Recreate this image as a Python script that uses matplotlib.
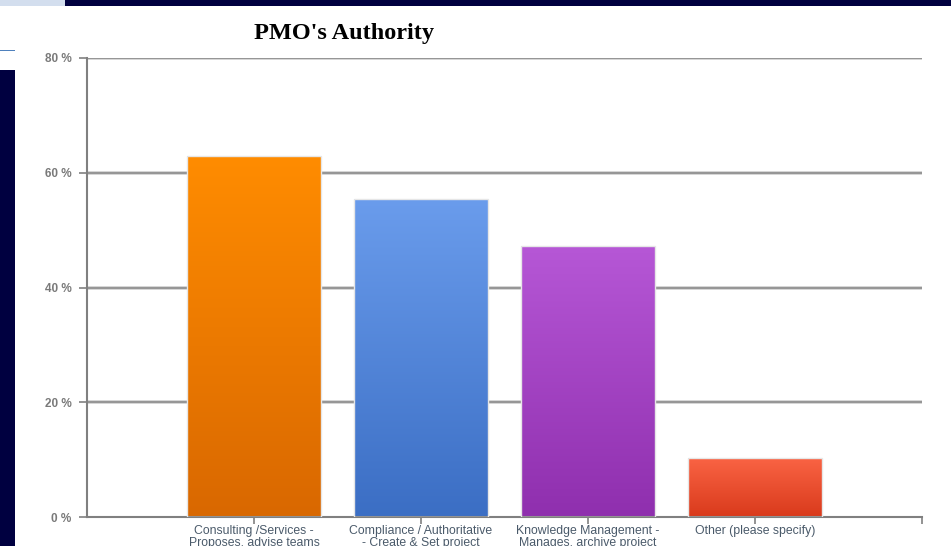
import numpy as np
import matplotlib.pyplot as plt
from matplotlib.colors import LinearSegmentedColormap
from matplotlib.patches import Rectangle

categories = [
    "Consulting /Services -\nProposes, advise teams",
    "Compliance / Authoritative\n- Create & Set project",
    "Knowledge Management -\nManages, archive project",
    "Other (please specify)",
]
values = [62.9, 55.4, 47.2, 10.3]
top_colors = ["#ff8c00", "#6a9cec", "#b657d6", "#fa6444"]
bottom_colors = ["#d96800", "#3b6ec4", "#8f2fae", "#d93a1c"]
y_ticks = [0, 20, 40, 60, 80]
y_tick_labels = ["0 %", "20 %", "40 %", "60 %", "80 %"]

W, H = 951, 546
fig = plt.figure(figsize=(W / 100, H / 100), dpi=100)
fig.patch.set_facecolor("white")

# slide decorations
fig.patches.append(Rectangle((0, 1 - 6 / H), 65 / W, 6 / H, transform=fig.transFigure,
                             facecolor="#d3deee", edgecolor="none", zorder=0))
fig.patches.append(Rectangle((65 / W, 1 - 6 / H), 1 - 65 / W, 6 / H, transform=fig.transFigure,
                             facecolor="#000040", edgecolor="none", zorder=0))
fig.patches.append(Rectangle((0, 1 - 51 / H), 15 / W, 1.5 / H, transform=fig.transFigure,
                             facecolor="#4f81bd", edgecolor="none", zorder=0))
fig.patches.append(Rectangle((0, 0), 15 / W, 1 - 70 / H, transform=fig.transFigure,
                             facecolor="#000040", edgecolor="none", zorder=0))

left, right, top, bottom = 87, 922, 58, 517
ax = fig.add_axes([left / W, 1 - bottom / H, (right - left) / W, (bottom - top) / H])
ax.set_xlim(0, 5)
ax.set_ylim(0, 80)
ax.set_facecolor("none")

for s in ["top", "right"]:
    ax.spines[s].set_visible(False)
ax.spines["left"].set_color("#808080")
ax.spines["bottom"].set_color("#808080")
ax.spines["left"].set_linewidth(1.5)
ax.spines["bottom"].set_linewidth(1.5)

for yv in y_ticks[1:]:
    ax.axhline(yv, color="#d4d4d4", lw=2.8, zorder=1)
    ax.axhline(yv, color="#8a8a8a", lw=1.2, zorder=1.1)

positions = np.arange(1, len(values) + 1)
bars = ax.bar(positions, values, width=0.8, color="none", edgecolor="#e6e6e6",
              linewidth=1.0, zorder=3)
grad = np.linspace(0, 1, 256).reshape(-1, 1)
for bar, c_top, c_bot in zip(bars, top_colors, bottom_colors):
    cmap = LinearSegmentedColormap.from_list("g", [c_bot, c_top])
    x0, w, h = bar.get_x(), bar.get_width(), bar.get_height()
    im = ax.imshow(grad, cmap=cmap, origin="lower", aspect="auto",
                   extent=(x0, x0 + w, 0, h), zorder=2)
    im.set_clip_path(bar)

ax.set_xlim(0, 5)
ax.set_ylim(0, 80)
ax.set_xticks(list(positions) + [5])
ax.set_xticklabels(categories + [""], fontsize=8.8, color="#4a5a6a",
                   linespacing=0.92, family="Liberation Sans")
ax.set_yticks(y_ticks)
ax.set_yticklabels(y_tick_labels, fontsize=8.5, color="#7a7a7a",
                   family="Liberation Sans", fontweight="bold")
ax.tick_params(axis="x", direction="out", length=5, width=1.2, color="#808080", pad=1)
ax.tick_params(axis="y", direction="out", length=6, width=1.2, color="#808080", pad=5)

fig.text(344 / W, 1 - 33 / H, "PMO's Authority", ha="center", va="center",
         fontsize=17.5, fontweight="bold", family="Liberation Serif", color="#000000")

fig.savefig("out.png", dpi=100)
